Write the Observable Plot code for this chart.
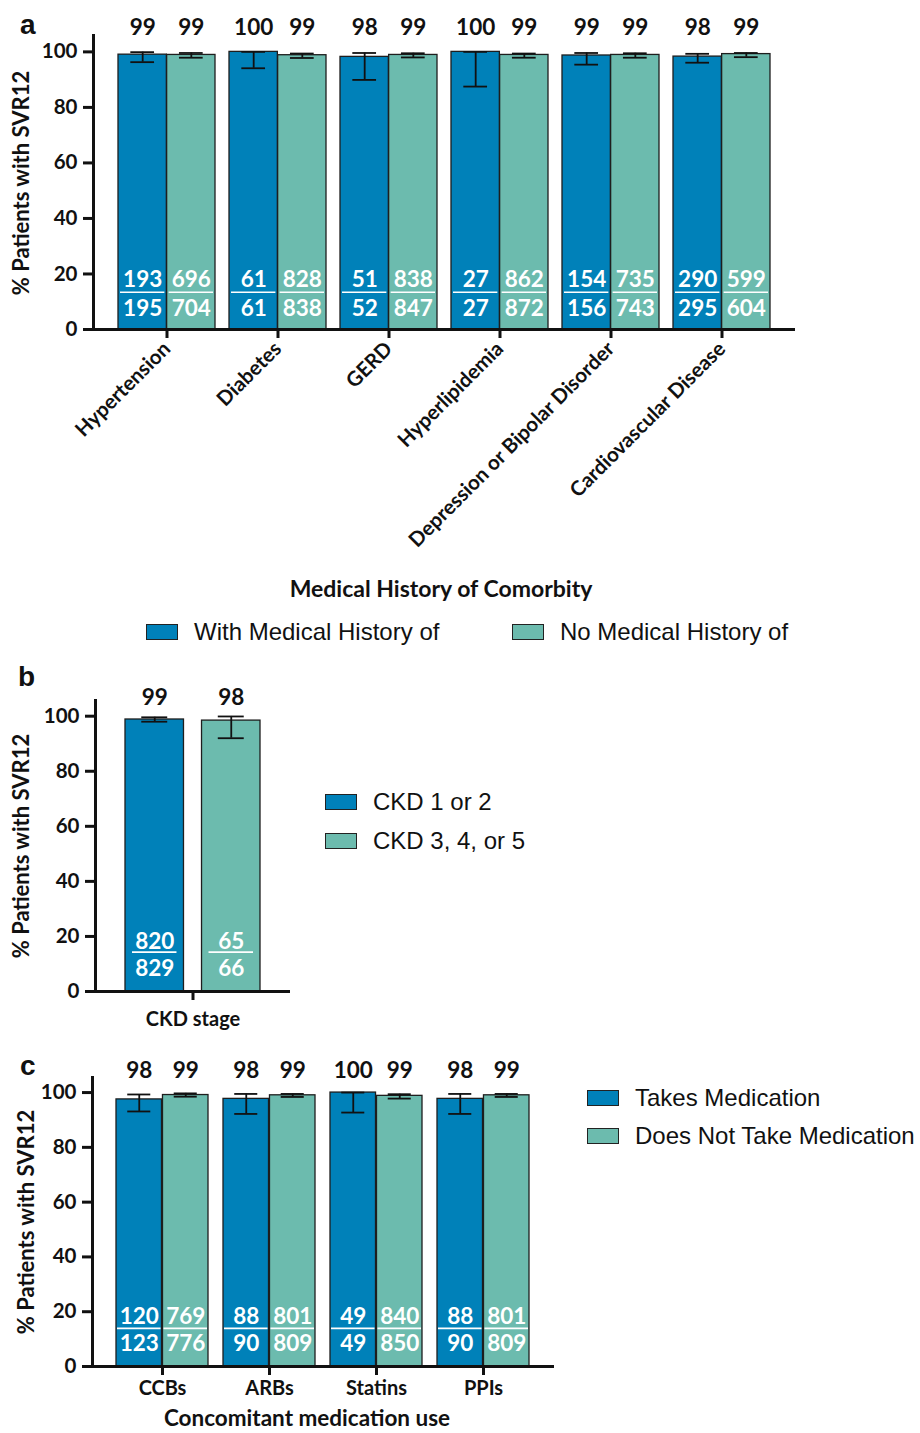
<!DOCTYPE html>
<html><head><meta charset="utf-8">
<script src="https://cdn.jsdelivr.net/npm/d3@7"></script>
<script src="https://cdn.jsdelivr.net/npm/@observablehq/plot@0.6"></script>
<style>
body{margin:0;background:#fff;}
#root{position:relative;width:920px;height:1433px;overflow:hidden;font-family:Lato,"Open Sans",sans-serif;color:#111;}
#root svg{position:absolute;overflow:visible;}
.abs{position:absolute;white-space:nowrap;line-height:1;}
.letter{font-family:"Liberation Sans",Arial,sans-serif;font-weight:bold;font-size:28px;}
.ytitle{font-weight:bold;font-size:22px;transform:translate(-50%,-50%) rotate(-90deg);}
.xtitle{font-weight:bold;font-size:23px;transform:translate(-50%,-50%);}
.leg{font-family:"Liberation Sans",Arial,sans-serif;font-size:24px;display:flex;align-items:center;transform:translateY(-50%);}
.sw{display:inline-block;width:32px;height:16px;border:1.3px solid #222;box-sizing:border-box;margin-right:16px;}
</style></head>
<body><div id="root"></div>
<script>
// ---------- Panel a data ----------
const comorbidities = ["Hypertension","Diabetes","GERD","Hyperlipidemia","Depression or Bipolar Disorder","Cardiovascular Disease"];
const aWithPct   = [99.0, 100, 98.2, 100, 98.7, 98.3];
const aWithLo    = [96.3, 94.1, 89.9, 87.5, 95.4, 96.1];
const aWithHi    = [99.9, 100, 99.6, 100, 99.6, 99.3];
const aWithNum   = [193, 61, 51, 27, 154, 290];
const aWithDen   = [195, 61, 52, 27, 156, 295];
const aWithLabel = ["99","100","98","100","99","98"];
const aNoPct     = [98.9, 98.8, 98.9, 98.9, 98.9, 99.2];
const aNoLo      = [97.9, 97.8, 98.0, 97.9, 97.9, 98.1];
const aNoHi      = [99.6, 99.4, 99.5, 99.4, 99.5, 99.6];
const aNoNum     = [696, 828, 838, 862, 735, 599];
const aNoDen     = [704, 838, 847, 872, 743, 604];
const aNoLabel   = ["99","99","99","99","99","99"];
const aSeries    = ["With Medical History of","No Medical History of"];

// ---------- Panel b data ----------
const ckdGroups  = ["CKD stage"];
const bLowPct = [98.8], bLowLo = [98.0], bLowHi = [99.6], bLowNum = [820], bLowDen = [829], bLowLabel = ["99"];
const bHighPct = [98.4], bHighLo = [92.0], bHighHi = [99.9], bHighNum = [65], bHighDen = [66], bHighLabel = ["98"];
const bSeries = ["CKD 1 or 2","CKD 3, 4, or 5"];

// ---------- Panel c data ----------
const meds = ["CCBs","ARBs","Statins","PPIs"];
const cTakesPct = [97.5, 97.7, 100, 97.7];
const cTakesLo  = [93.1, 92.2, 92.7, 92.2];
const cTakesHi  = [99.3, 99.5, 100, 99.5];
const cTakesNum = [120, 88, 49, 88];
const cTakesDen = [123, 90, 49, 90];
const cTakesLabel = ["98","98","100","98"];
const cNotPct = [99.1, 99.0, 98.8, 99.0];
const cNotLo  = [98.5, 98.4, 97.8, 98.4];
const cNotHi  = [99.7, 99.5, 99.4, 99.5];
const cNotNum = [769, 801, 840, 801];
const cNotDen = [776, 809, 850, 809];
const cNotLabel = ["99","99","99","99"];
const cSeries = ["Takes Medication","Does Not Take Medication"];

const yTicks = [0, 20, 40, 60, 80, 100];
const BLUE = "#0081B9", TEAL = "#6CBBAE", INK = "#111", EDGE = "#1e1e1e";

function rows(groups, pct, lo, hi, num, den, lab) {
  return groups.map((g, i) => ({group: g, pct: pct[i], lo: lo[i], hi: hi[i], num: String(num[i]), den: String(den[i]), label: lab[i]}));
}

function drawPanel(cfg) {
  const A = cfg.A, B = cfg.B;
  const xs = Plot.scale({x: {type: "band", domain: cfg.groups, range: [cfg.marginLeft, cfg.width - cfg.marginRight], paddingInner: cfg.padIn, paddingOuter: cfg.padOut}});
  const bw = xs.bandwidth;
  const barW = (bw - cfg.gap) / 2;
  const off = (barW + cfg.gap) / 2;
  const c = bw / 2;
  const cw = cfg.capW / 2;
  const li = cfg.lineInset;
  const errStyle = {stroke: INK, strokeWidth: 1.8};
  const inA = {insetLeft: c - off - cw, insetRight: bw - (c - off + cw)};
  const inB = {insetLeft: c + off - cw, insetRight: bw - (c + off + cw)};
  const fracText = {fill: "white", fontSize: 22.5, fontWeight: "bold"};
  const topText = {frameAnchor: "top", lineAnchor: "middle", dy: cfg.topDy, text: "label", fontSize: 22.5, fontWeight: "bold", fill: INK};
  const svg = Plot.plot({
    width: cfg.width, height: cfg.height,
    marginLeft: cfg.marginLeft, marginRight: cfg.marginRight, marginTop: cfg.marginTop, marginBottom: cfg.marginBottom,
    style: {fontFamily: "Lato, 'Open Sans', sans-serif", fontWeight: "bold", fontSize: "20px", color: INK, background: "transparent"},
    x: {type: "band", domain: cfg.groups, paddingInner: cfg.padIn, paddingOuter: cfg.padOut},
    y: {domain: [0, cfg.yTop]},
    marks: [
      Plot.barY(A, {x: "group", y: "pct", fill: BLUE, stroke: EDGE, strokeWidth: 1.3, insetRight: barW + cfg.gap}),
      Plot.barY(B, {x: "group", y: "pct", fill: TEAL, stroke: EDGE, strokeWidth: 1.3, insetLeft: barW + cfg.gap}),
      // error bars
      Plot.ruleX(A, {x: "group", y1: "lo", y2: "hi", dx: -off, ...errStyle}),
      Plot.ruleX(B, {x: "group", y1: "lo", y2: "hi", dx: off, ...errStyle}),
      Plot.tickY(A, {x: "group", y: "hi", ...inA, ...errStyle}),
      Plot.tickY(A, {x: "group", y: "lo", ...inA, ...errStyle}),
      Plot.tickY(B, {x: "group", y: "hi", ...inB, ...errStyle}),
      Plot.tickY(B, {x: "group", y: "lo", ...inB, ...errStyle}),
      // percentages above
      Plot.text(A, {x: "group", dx: -off, ...topText}),
      Plot.text(B, {x: "group", dx: off, ...topText}),
      // n / N inside bars
      Plot.text(A, {x: "group", y: () => cfg.numY, dx: -off, text: "num", ...fracText}),
      Plot.text(B, {x: "group", y: () => cfg.numY, dx: off, text: "num", ...fracText}),
      Plot.text(A, {x: "group", y: () => cfg.denY, dx: -off, text: "den", ...fracText}),
      Plot.text(B, {x: "group", y: () => cfg.denY, dx: off, text: "den", ...fracText}),
      Plot.tickY(A, {x: "group", y: () => cfg.lineY, insetLeft: li, insetRight: bw - barW + li, stroke: "white", strokeWidth: 1.6}),
      Plot.tickY(B, {x: "group", y: () => cfg.lineY, insetLeft: bw - barW + li, insetRight: li, stroke: "white", strokeWidth: 1.6}),
      // axes
      Plot.ruleY([0], {stroke: INK, strokeWidth: 3}),
      Plot.frame({anchor: "left", stroke: INK, strokeWidth: 3}),
      Plot.axisY({ticks: yTicks, tickSize: 10, tickPadding: 6, strokeWidth: 3, label: null, fontSize: 20.5, fontWeight: "bold"}),
      Plot.axisX({tickSize: 9, strokeWidth: 3, tickPadding: cfg.tickPadding, tickRotate: cfg.tickRotate, label: null, fontSize: cfg.xFont, fontWeight: "bold"})
    ]
  });
  svg.style.left = cfg.left + "px";
  svg.style.top = cfg.top + "px";
  return svg;
}

const root = document.getElementById("root");

root.appendChild(drawPanel({
  groups: comorbidities,
  A: rows(comorbidities, aWithPct, aWithLo, aWithHi, aWithNum, aWithDen, aWithLabel),
  B: rows(comorbidities, aNoPct, aNoLo, aNoHi, aNoNum, aNoDen, aNoLabel),
  left: 0, top: 0, width: 920, height: 560,
  marginLeft: 93, marginRight: 125, marginTop: 35, marginBottom: 231,
  yTop: 105.9, padIn: 0.126, padOut: 0.2165, gap: 0, capW: 24, lineInset: 2,
  numY: 17.9, lineY: 13.4, denY: 7.6, topDy: -8, tickRotate: -45, tickPadding: 7, xFont: 20.5
}));

root.appendChild(drawPanel({
  groups: ckdGroups,
  A: rows(ckdGroups, bLowPct, bLowLo, bLowHi, bLowNum, bLowDen, bLowLabel),
  B: rows(ckdGroups, bHighPct, bHighLo, bHighHi, bHighNum, bHighDen, bHighLabel),
  left: 0, top: 655, width: 320, height: 385,
  marginLeft: 95, marginRight: 30, marginTop: 45, marginBottom: 49,
  yTop: 105.7, padIn: 0, padOut: 0.222, gap: 18, capW: 26, lineInset: 7,
  numY: 18.2, lineY: 14.3, denY: 8.4, topDy: -3, tickRotate: 0, tickPadding: 11, xFont: 20
}));

root.appendChild(drawPanel({
  groups: meds,
  A: rows(meds, cTakesPct, cTakesLo, cTakesHi, cTakesNum, cTakesDen, cTakesLabel),
  B: rows(meds, cNotPct, cNotLo, cNotHi, cNotNum, cNotDen, cNotLabel),
  left: 0, top: 1045, width: 570, height: 388,
  marginLeft: 92, marginRight: 16, marginTop: 32, marginBottom: 67,
  yTop: 105.5, padIn: 0.136, padOut: 0.215, gap: 0, capW: 24, lineInset: 1,
  numY: 18, lineY: 13.9, denY: 8.4, topDy: -7, tickRotate: 0, tickPadding: 5, xFont: 20
}));

function addDiv(cls, text, css) {
  const d = document.createElement("div");
  d.className = "abs " + cls;
  d.textContent = text;
  Object.assign(d.style, css);
  root.appendChild(d);
  return d;
}
function addLegend(label, color, x, y) {
  const d = document.createElement("div");
  d.className = "abs leg";
  Object.assign(d.style, {left: x + "px", top: y + "px"});
  const sw = document.createElement("span");
  sw.className = "sw";
  sw.style.background = color;
  d.appendChild(sw);
  d.appendChild(document.createTextNode(label));
  root.appendChild(d);
}

// panel letters
addDiv("letter", "a", {left: "20px", top: "11px"});
addDiv("letter", "b", {left: "18px", top: "663px"});
addDiv("letter", "c", {left: "20px", top: "1052px"});

// y titles
const yTitle = "% Patients with SVR12";
addDiv("ytitle", yTitle, {left: "21px", top: "183px"});
addDiv("ytitle", yTitle, {left: "21px", top: "846px"});
addDiv("ytitle", yTitle, {left: "26px", top: "1222px"});

// x titles
addDiv("xtitle", "Medical History of Comorbity", {left: "441px", top: "588px"});
addDiv("xtitle", "Concomitant medication use", {left: "307px", top: "1418px", fontSize: "22.5px"});

// legends
addLegend(aSeries[0], BLUE, 146, 632);
addLegend(aSeries[1], TEAL, 512, 632);
addLegend(bSeries[0], BLUE, 325, 802);
addLegend(bSeries[1], TEAL, 325, 841);
addLegend(cSeries[0], BLUE, 587, 1098);
addLegend(cSeries[1], TEAL, 587, 1136);
</script></body></html>
